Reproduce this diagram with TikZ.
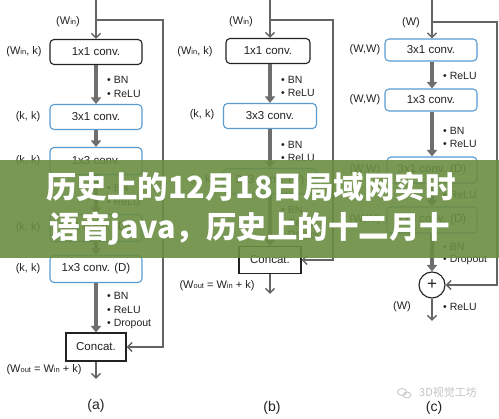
\documentclass[tikz,border=0pt]{standalone}
\usepackage{fontspec}
\setmainfont{Liberation Sans}
\newfontfamily\cjk{Noto Sans CJK SC}
\usetikzlibrary{arrows.meta}
\definecolor{boxblue}{HTML}{5A9BD0}
\definecolor{linegray}{HTML}{646464}
\definecolor{thickgray}{HTML}{6E6E6E}
\definecolor{bannergreen}{HTML}{6A8D42}
\definecolor{txt}{HTML}{222222}
\definecolor{wmgray}{HTML}{C4C4C4}
\newcommand\smsub[1]{{\fontsize{7.5}{8}\selectfont #1}}
\tikzset{
  cbox/.style={line width=1.1pt, rounded corners=4pt, minimum height=25pt, inner sep=0pt,
    font=\fontsize{11.5}{12}\selectfont, text=txt, fill=white},
  bluebox/.style={cbox, draw=boxblue},
  blackbox/.style={cbox, draw=txt},
  sqbox/.style={draw=txt, line width=1.1pt, inner sep=0pt, fill=white,
    font=\fontsize{11.5}{12}\selectfont, text=txt},
  fatarrow/.style={draw=thickgray, line width=3.3pt, -{Triangle[length=6.5pt,width=10pt]}},
  thinarrow/.style={draw=linegray, line width=1.5pt, -{Straight Barb[length=4.5pt,width=9pt]}},
  lab/.style={font=\fontsize{11}{12}\selectfont, text=txt, inner sep=0pt},
  bul/.style={font=\fontsize{10.5}{12}\selectfont, text=txt, inner sep=0pt, anchor=west},
  panelcap/.style={font=\fontsize{14}{14}\selectfont, text=txt, inner sep=0pt},
}
\begin{document}
\begin{tikzpicture}[x=1pt, y=-1pt]
\fill[white] (0,0) rectangle (499,419);
\useasboundingbox (0,0) rectangle (499,419);

% ---------------- panel (a)
\node[blackbox, minimum width=92pt] (a1) at (96,52) {1x1 conv.};
\node[bluebox, minimum width=92pt] (a2) at (96,117) {3x1 conv.};
\node[bluebox, minimum width=92pt, minimum height=27pt] (a3) at (96,161) {1x3 conv.};
\node[bluebox, minimum width=92pt, minimum height=27pt] (a4) at (96,228) {3x1 conv. (D)};
\node[bluebox, minimum width=92pt, minimum height=27pt] (a5) at (96,269) {1x3 conv. (D)};
\node[sqbox, minimum width=60pt, minimum height=28pt] (ac) at (96,347) {Concat.};
\coordinate (atop) at (96,0);
\coordinate (asplit) at (96,20);
\coordinate (ar1) at (163,20);
\coordinate (ar2) at (163,347);
\coordinate (aout) at (96,379);
\draw[thinarrow] (atop) -- (a1.north);
\draw[thinarrow] (asplit) -- (ar1) -- (ar2) -- (ac.east);
\draw[fatarrow] (a1.south) -- (a2.north);
\draw[fatarrow] (a2.south) -- (a3.north);
\draw[fatarrow] (a3.south) -- (a4.north);
\draw[fatarrow] (a4.south) -- (a5.north);
\draw[fatarrow] (a5.south) -- (ac.north);
\draw[thinarrow] (ac.south) -- (aout);
\node[lab] (la0) at (68,22) {(W\smsub{in})};
\node[lab] (la1) at (24,52) {(W\smsub{in}, k)};
\node[lab] (la2) at (28,117) {(k, k)};
\node[lab] (la3) at (28,161) {(k, k)};
\node[lab] (la4) at (28,228) {(k, k)};
\node[lab] (la5) at (28,269) {(k, k)};
\node[bul] (ba1) at (107,80) {• BN};
\node[bul] (ba2) at (107,94) {• ReLU};
\node[bul] (ba3) at (107,188) {• BN};
\node[bul] (ba4) at (107,202) {• ReLU};
\node[bul] (ba5) at (107,296) {• BN};
\node[bul] (ba6) at (107,310) {• ReLU};
\node[bul] (ba7) at (107,324) {• Dropout};
\node[lab] (laout) at (44,370) {(W\smsub{out} = W\smsub{in} + k)};
\node[panelcap] (capa) at (96,406) {(a)};

% ---------------- panel (b)
\node[blackbox, minimum width=84pt] (b1) at (268,51) {1x1 conv.};
\node[bluebox, minimum width=93pt] (b2) at (270,116) {3x3 conv.};
\node[bluebox, minimum width=93pt] (b3) at (270,181) {3x3 conv. (D)};
\node[sqbox, minimum width=62pt, minimum height=27pt] (bc) at (270,260) {Concat.};
\coordinate (btop) at (270,0);
\coordinate (bsplit) at (270,20);
\coordinate (br1) at (333,20);
\coordinate (br2) at (333,260);
\coordinate (bout) at (270,294);
\draw[thinarrow] (btop) -- (b1.north -| btop);
\draw[thinarrow] (bsplit) -- (br1) -- (br2) -- (bc.east);
\draw[fatarrow] (b1.south -| btop) -- (b2.north);
\draw[fatarrow] (b2.south) -- (b3.north);
\draw[fatarrow] (b3.south) -- (bc.north);
\draw[thinarrow] (bc.south) -- (bout);
\node[lab] (lb0) at (241,22) {(W\smsub{in})};
\node[lab] (lb1) at (195,52) {(W\smsub{in}, k)};
\node[lab] (lb2) at (202,115) {(k, k)};
\node[lab] (lb3) at (202,180) {(k, k)};
\node[bul] (bb1) at (281,80) {• BN};
\node[bul] (bb2) at (281,93) {• ReLU};
\node[bul] (bb3) at (281,145) {• BN};
\node[bul] (bb4) at (281,158) {• ReLU};
\node[bul] (bb5) at (281,210) {• BN};
\node[bul] (bb6) at (281,223) {• ReLU};
\node[bul] (bb7) at (281,236) {• Dropout};
\node[lab] (lbout) at (217,286) {(W\smsub{out} = W\smsub{in} + k)};
\node[panelcap] (capb) at (272,408) {(b)};

% ---------------- panel (c)
\node[bluebox, minimum width=92pt, minimum height=22pt] (c1) at (431,50) {3x1 conv.};
\node[bluebox, minimum width=92pt, minimum height=22pt] (c2) at (431,100) {1x3 conv.};
\node[bluebox, minimum width=90pt, minimum height=26pt] (c3) at (432,170) {3x1 conv. (D)};
\node[bluebox, minimum width=90pt, minimum height=26pt] (c4) at (432,220) {1x3 conv. (D)};
\node[draw=txt, circle, line width=1.1pt, minimum size=26pt, inner sep=0pt, fill=white,
  font=\fontsize{17}{17}\selectfont, text=txt] (cp) at (432,285) {+};
\coordinate (ctop) at (432,0);
\coordinate (csplit) at (432,22);
\coordinate (cr1) at (497,22);
\coordinate (cr2) at (497,285);
\coordinate (cout) at (432,321);
\draw[thinarrow] (ctop) -- (c1.north -| ctop);
\draw[thinarrow] (csplit) -- (cr1) -- (cr2) -- (cp.east);
\draw[fatarrow] (c1.south -| ctop) -- (c2.north -| ctop);
\draw[fatarrow] (c2.south -| ctop) -- (c3.north);
\draw[fatarrow] (c3.south) -- (c4.north);
\draw[fatarrow] (c4.south) -- (cp.north);
\draw[thinarrow] (cp.south) -- (cout);
\node[lab] (lc0) at (411,23) {(W)};
\node[lab] (lc1) at (365,50) {(W,W)};
\node[lab] (lc2) at (365,100) {(W,W)};
\node[lab] (lc3) at (365,170) {(W,W)};
\node[lab] (lc4) at (365,220) {(W,W)};
\node[bul] (bc1) at (443,76) {• ReLU};
\node[bul] (bc2) at (443,131) {• BN};
\node[bul] (bc3) at (443,144) {• ReLU};
\node[bul] (bc4) at (443,195) {• ReLU};
\node[bul] (bc5) at (443,247) {• BN};
\node[bul] (bc6) at (443,260) {• Dropout};
\node[lab] (lcout) at (402,307) {(W)};
\node[bul] (bc7) at (443,307) {• ReLU};
\node[panelcap] (capc) at (434,408) {(c)};

% ---------------- watermark
\draw[wmgray, line width=0.8pt] (402,392) ellipse (4.5pt and 3.5pt);
\draw[wmgray, line width=0.8pt] (407,395) ellipse (4pt and 3pt);
\node[font={\cjk\fontsize{11}{12}\selectfont}, text=wmgray, inner sep=0pt] (wm) at (448,392) {3D视觉工坊};

% ---------------- banner
\fill[bannergreen, opacity=0.9] (0,160) rectangle (499,258);
\node[font={\cjk\bfseries\fontsize{30.5}{31}\selectfont}, text=white, inner sep=0pt] (t1) at (251,187) {历史上的12月18日局域网实时};
\node[font={\cjk\bfseries\fontsize{30.5}{31}\selectfont}, text=white, inner sep=0pt] (t2) at (250,229) {语音java，历史上的十二月十};
\end{tikzpicture}
\end{document}
